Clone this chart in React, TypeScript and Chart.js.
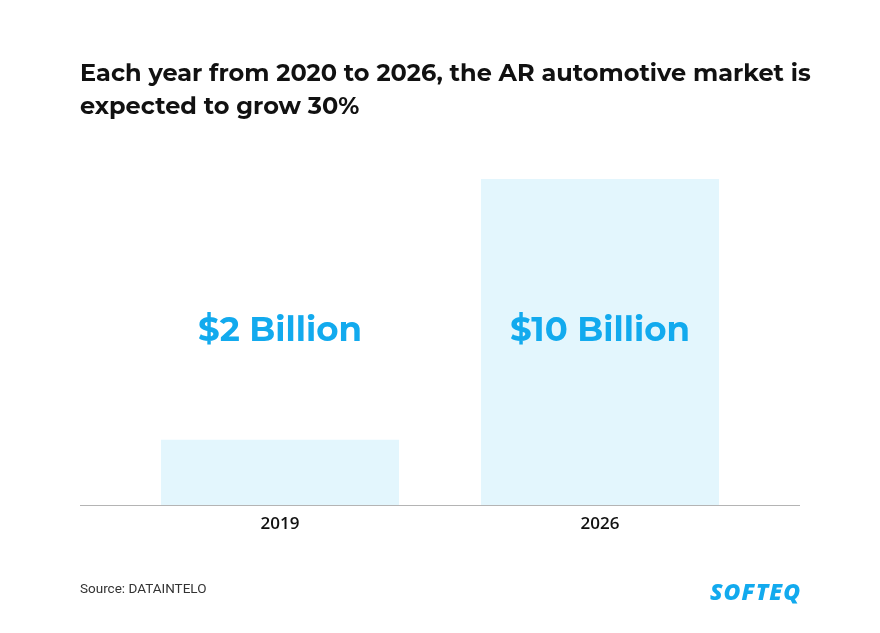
import React, { useEffect, useRef } from "react";
import { Chart, registerables } from "chart.js";

Chart.register(...registerables);

const categories = ["2019", "2026"];
const marketValues = [2, 10];
const valueLabels = ["$2 Billion", "$10 Billion"];
const titleLines = [
  "Each year from 2020 to 2026, the AR automotive market is",
  "expected to grow 30%",
];
const sourceText = "Source: DATAINTELO";
const logoText = "SOFTEQ";

const BLUE = "#12aaee";
const BAR = "#e3f6fd";

const overlayPlugin = {
  id: "overlay",
  afterDatasetsDraw(chart: any) {
    const { ctx, chartArea } = chart;
    ctx.save();
    // baseline
    ctx.strokeStyle = "#b4b4b4";
    ctx.lineWidth = 1;
    ctx.beginPath();
    ctx.moveTo(80, chartArea.bottom + 0.5);
    ctx.lineTo(800, chartArea.bottom + 0.5);
    ctx.stroke();
    // value labels
    const meta = chart.getDatasetMeta(0);
    ctx.fillStyle = BLUE;
    ctx.font = "bold 34px Montserrat, 'Open Sans', sans-serif";
    ctx.textAlign = "center";
    ctx.textBaseline = "middle";
    meta.data.forEach((bar: any, i: number) => {
      ctx.fillText(valueLabels[i], bar.x, chartArea.bottom - 174);
    });
    ctx.restore();
  },
};

export default function App() {
  const ref = useRef<HTMLCanvasElement>(null);
  useEffect(() => {
    document.body.style.margin = "0";
    const chart = new Chart(ref.current!, {
      type: "bar",
      data: {
        labels: categories,
        datasets: [
          {
            data: marketValues,
            backgroundColor: BAR,
            barPercentage: 1,
            categoryPercentage: 0.744,
          },
        ],
      },
      options: {
        animation: false,
        responsive: false,
        maintainAspectRatio: false,
        layout: { padding: { left: 120, right: 120, top: 179, bottom: 88 } },
        plugins: { legend: { display: false }, tooltip: { enabled: false }, title: { display: false } },
        scales: {
          x: {
            grid: { display: false, drawTicks: false },
            border: { display: false },
            ticks: {
              color: "#111",
              padding: 9,
              font: { family: "'Open Sans', sans-serif", size: 17, weight: 600 },
            },
            afterFit(scale: any) {
              scale.height = 40;
            },
          },
          y: { display: false, min: 0, max: 10 },
        },
      },
      plugins: [overlayPlugin],
    });
    return () => chart.destroy();
  }, []);

  return (
    <div style={{ position: "relative", width: 880, height: 633, background: "#fff", overflow: "hidden" }}>
      <canvas ref={ref} width={880} height={633} style={{ position: "absolute", left: 0, top: 0 }} />
      <div
        style={{
          position: "absolute",
          left: 80,
          top: 56,
          fontFamily: "Montserrat, 'Open Sans', sans-serif",
          fontWeight: 700,
          fontSize: 24,
          lineHeight: "33px",
          color: "#111",
          whiteSpace: "nowrap",
        }}
      >
        {titleLines.map((l, i) => (
          <div key={i}>{l}</div>
        ))}
      </div>
      <div
        style={{
          position: "absolute",
          left: 80,
          top: 580,
          fontFamily: "Roboto, sans-serif",
          fontSize: 13.5,
          color: "#333",
        }}
      >
        {sourceText}
      </div>
      <div
        style={{
          position: "absolute",
          left: 710,
          top: 575,
          fontFamily: "'Open Sans', sans-serif",
          fontWeight: 800,
          fontStyle: "italic",
          fontSize: 23,
          color: BLUE,
          letterSpacing: 1,
        }}
      >
        {logoText}
      </div>
    </div>
  );
}
